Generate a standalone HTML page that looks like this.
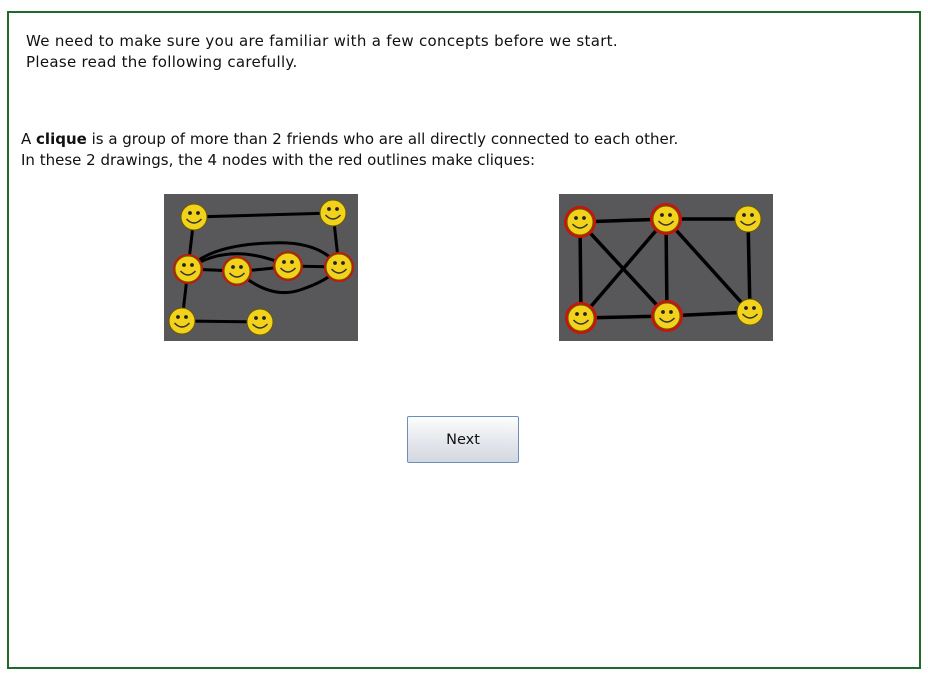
<!DOCTYPE html>
<html><head><meta charset="utf-8"><style>
body{margin:0;width:928px;height:677px;background:#fff;position:relative;overflow:hidden;font-family:"DejaVu Sans","Liberation Sans",sans-serif;color:#111}
.frame{position:absolute;left:7px;top:11px;width:910px;height:654px;border:2px solid #1f6b2a}
.t{position:absolute;font-size:15px;white-space:nowrap}
.btn{position:absolute;left:407px;top:416px;width:112px;height:47px;border:1px solid #6d8fb5;border-radius:2px;background:linear-gradient(#fdfdfd,#e6e9ee 50%,#d3d8e0);font-size:14.5px;display:flex;align-items:center;justify-content:center;box-sizing:border-box}
</style></head><body>
<div class="frame"></div>
<div class="t" style="left:26px;top:32px;letter-spacing:0.3px">We need to make sure you are familiar with a few concepts before we start.</div>
<div class="t" style="left:26px;top:53px;letter-spacing:0.3px">Please read the following carefully.</div>
<div class="t" style="left:21px;top:130px">A <b>clique</b> is a group of more than 2 friends who are all directly connected to each other.</div>
<div class="t" style="left:21px;top:151px">In these 2 drawings, the 4 nodes with the red outlines make cliques:</div>
<svg style="position:absolute;left:0;top:0" width="928" height="677">
<defs><g id="sm"><circle r="13" fill="#f2d21a" stroke="#6b5a00" stroke-width="1"/><circle cx="-4" cy="-4" r="1.9" fill="#222"/><circle cx="4" cy="-4" r="1.9" fill="#222"/><path d="M-7.5 2 Q0 10 7.5 2" stroke="#333" stroke-width="1.5" fill="none"/></g></defs>
<g>
<rect x="164" y="194" width="194" height="147" fill="#58585a"/>
<g stroke="#000" stroke-width="3" fill="none">
<line x1="194" y1="217" x2="333" y2="213"/><line x1="194" y1="217" x2="188" y2="269"/><line x1="333" y1="213" x2="339" y2="267"/>
<line x1="188" y1="269" x2="182" y2="321"/><line x1="182" y1="321" x2="260" y2="322"/>
<line x1="188" y1="269" x2="237" y2="271"/><line x1="288" y1="266" x2="339" y2="267"/>
<path d="M237 271 Q262 270 288 266"/><path d="M188 269 Q230 240 288 266"/><path d="M188 269 Q210 245 270 243 Q320 240 339 267"/><path d="M237 271 Q270 300 300 290 Q330 280 339 267"/>
</g>
<g fill="#c8140c"><circle cx="188" cy="269" r="15"/><circle cx="237" cy="271" r="15"/><circle cx="288" cy="266" r="15"/><circle cx="339" cy="267" r="15"/></g>
<use href="#sm" x="194" y="217"/><use href="#sm" x="333" y="213"/><use href="#sm" x="188" y="269"/><use href="#sm" x="237" y="271"/><use href="#sm" x="288" y="266"/><use href="#sm" x="339" y="267"/><use href="#sm" x="182" y="321"/><use href="#sm" x="260" y="322"/>
</g>
<g>
<rect x="559" y="194" width="214" height="147" fill="#58585a"/>
<g stroke="#000" stroke-width="3.5">
<line x1="580" y1="222" x2="666" y2="219"/><line x1="666" y1="219" x2="748" y2="219"/><line x1="580" y1="222" x2="581" y2="318"/><line x1="580" y1="222" x2="667" y2="316"/>
<line x1="666" y1="219" x2="581" y2="318"/><line x1="666" y1="219" x2="667" y2="316"/><line x1="666" y1="219" x2="750" y2="312"/><line x1="748" y1="219" x2="750" y2="312"/>
<line x1="581" y1="318" x2="667" y2="316"/><line x1="667" y1="316" x2="750" y2="312"/>
</g>
<g fill="#c8140c"><circle cx="580" cy="222" r="16"/><circle cx="666" cy="219" r="16"/><circle cx="581" cy="318" r="16"/><circle cx="667" cy="316" r="16"/></g>
<use href="#sm" x="580" y="222"/><use href="#sm" x="666" y="219"/><use href="#sm" x="748" y="219"/><use href="#sm" x="581" y="318"/><use href="#sm" x="667" y="316"/><use href="#sm" x="750" y="312"/>
</g>
</svg>
<div class="btn">Next</div>
</body></html>
